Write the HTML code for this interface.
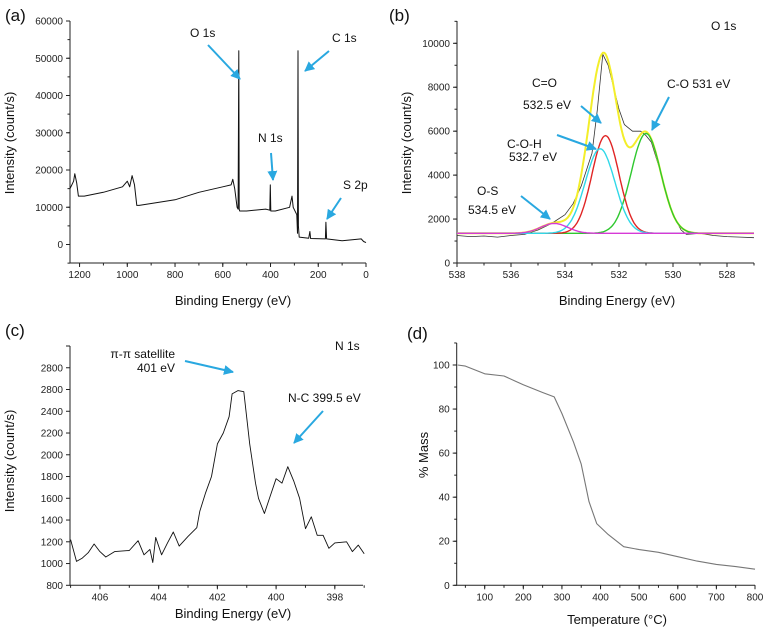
<!DOCTYPE html>
<html><head><meta charset="utf-8">
<style>
html,body{margin:0;padding:0;background:#fff;}
svg{display:block;font-family:"Liberation Sans",Arial,sans-serif;}
.tk{font-size:10px;fill:#222;}
.ttl{font-size:13px;fill:#111;}
.ann{font-size:12px;fill:#111;}
.pl{font-size:17px;fill:#111;}
</style></head>
<body>
<svg id="fig" width="768" height="635" viewBox="0 0 768 635">
<defs>
<marker id="ah" viewBox="0 0 10 10" refX="9" refY="5" markerWidth="5" markerHeight="5" orient="auto"><path d="M0,0 L10,5 L0,10 z" fill="#29a8e0"/></marker>
</defs>
</svg>
<script>
// ---- Panel (a) survey spectrum ----
const aEnergy = [1240,1225,1220,1212,1205,1180,1100,1020,1000,990,980,970,960,950,900,800,700,600,565,558,550,540,536,533,531,529,500,420,403,401,399,380,320,310,305,290,287,285,283,280,240,235,232,170,168,165,100,20,10,0];
const aIntensity = [15000,17000,19000,16500,13000,13000,14000,15500,17000,15500,18500,16000,10500,10500,11000,12000,14000,15500,16000,17500,15000,10000,9500,52000,9500,9000,9000,9500,9200,16000,9000,9000,10000,13000,10000,8000,3000,52000,5000,2000,1700,3500,1600,1500,6000,1500,1000,1500,800,500];
const aXTicks = [1200,1000,800,600,400,200,0];
const aYTicks = [0,10000,20000,30000,40000,50000,60000];
// ---- Panel (b) O 1s ----
const bEnergy = [538,537.5,537,536.5,536,535.5,535,534.5,534,533.7,533.4,533,532.8,532.6,532.4,532.2,532,531.8,531.5,531.2,531,530.8,530.5,530.2,530,529.7,529.5,529,528.5,528,527.5,527];
const bIntensity = [1250,1200,1230,1180,1250,1300,1500,1800,2200,2700,3500,5000,7000,9500,9000,8000,7000,6300,6000,6000,5800,5500,4300,3000,2200,1500,1300,1350,1250,1200,1180,1150];
const bPeakNames = ["O-S","C-O-H","C=O","C-O"];
const bPeakCenters = [534.4,532.7,532.5,531.0];
const bPeakHeights = [450,3850,4450,4550];
const bPeakSigmas = [0.5,0.55,0.5,0.55];
const bBaseline = 1350;
const bXTicks = [538,536,534,532,530,528];
const bYTicks = [0,2000,4000,6000,8000,10000];
// ---- Panel (c) N 1s ----
const cEnergy = [407,406.8,406.6,406.4,406.2,406,405.8,405.5,405,404.7,404.5,404.3,404.2,404.1,403.9,403.7,403.5,403.3,403,402.7,402.6,402.4,402.2,402,401.8,401.6,401.5,401.3,401.1,400.9,400.7,400.6,400.4,400.2,400,399.8,399.6,399.4,399.2,399,398.8,398.6,398.4,398.2,398,397.6,397.4,397.2,397];
const cIntensity = [1220,1020,1050,1100,1180,1110,1060,1110,1120,1210,1080,1130,1010,1240,1080,1190,1290,1160,1250,1330,1480,1650,1800,2100,2200,2350,2560,2590,2580,2100,1740,1600,1460,1620,1780,1740,1890,1760,1600,1320,1430,1260,1260,1140,1190,1200,1110,1170,1090];
const cXTicks = [406,404,402,400,398];
const cYTicks = [800,1000,1200,1400,1600,1800,2000,2200,2400,2600,2800];
const cYLabels = ["800","1000","1200","1400","1600","1800","2000","2200","2400","2800","2800"];
// ---- Panel (d) TGA ----
const dTemp = [30,50,100,150,200,250,280,300,330,350,370,390,420,460,500,550,600,650,700,750,800];
const dMass = [100,99.5,96,95,91,87.5,85.5,78,65,55,38,28,23,17.5,16.2,15,13,11,9.5,8.5,7.3];
const dXTicks = [100,200,300,400,500,600,700,800];
const dYTicks = [0,20,40,60,80,100];

const NS="http://www.w3.org/2000/svg";
const svg=document.getElementById('fig');
function mk(tag,attrs,parent){const e=document.createElementNS(NS,tag);for(const k in attrs)e.setAttribute(k,attrs[k]);(parent||svg).appendChild(e);return e;}
function lin(d0,d1,r0,r1){return v=>r0+(v-d0)/(d1-d0)*(r1-r0);}
function txt(s,x,y,cls,anchor,parent){const t=mk('text',{x:x,y:y,class:cls,'text-anchor':anchor||'middle'},parent);t.textContent=s;return t;}

function axes(g,P,xs,ys,xTicks,xMinor,yTicks,yMinor,yLabels){
  const ax=mk('path',{d:`M${P.l},${P.t} L${P.l},${P.b} L${P.r},${P.b}`,fill:'none',stroke:'#222','stroke-width':1},g);
  
  
  xMinor.forEach(v=>{const x=xs(v);mk('line',{x1:x,x2:x,y1:P.b,y2:P.b+2.5,stroke:'#222'},g);});
  xTicks.forEach(v=>{const x=xs(v);mk('line',{x1:x,x2:x,y1:P.b,y2:P.b+4,stroke:'#222'},g);
    const t=txt(String(v),x,P.b+15,'tk','middle',g);
    
    });
  yMinor.forEach(v=>{const y=ys(v);mk('line',{x1:P.l-2.5,x2:P.l,y1:y,y2:y,stroke:'#222'},g);});
  yTicks.forEach((v,i)=>{const y=ys(v);mk('line',{x1:P.l-4,x2:P.l,y1:y,y2:y,stroke:'#222'},g);
    const t=txt(yLabels?yLabels[i]:String(v),P.l-7,y+3.5,'tk','end',g);
    
    });
}
function range(a,b,s){const o=[];for(let v=a;v<=b+1e-9;v+=s)o.push(+v.toFixed(3));return o;}
function line(g,X,Y,xs,ys,color,w){const d=X.map((v,i)=>(i?'L':'M')+xs(v).toFixed(1)+','+ys(Y[i]).toFixed(1)).join(' ');
  return mk('path',{d:d,fill:'none',stroke:color,'stroke-width':w||1,'stroke-linejoin':'round'},g);}
function arrow(g,x1,y1,x2,y2){const a=mk('line',{x1,y1,x2,y2,stroke:'#29a8e0','stroke-width':2,'marker-end':'url(#ah)'},g);
  
  }
function ytitle(g,s,x,y){const t=mk('text',{x:0,y:0,class:'ttl','text-anchor':'middle',transform:`translate(${x},${y}) rotate(-90)`},g);t.textContent=s;
  
  }
function plabel(g,s,x,y){const t=txt(s,x,y,'pl','start',g);
  
  }
function xtitle(g,s,x,y){const t=txt(s,x,y,'ttl','middle',g);
  
  }
function ann(g,s,x,y,anchor){const t=txt(s,x,y,'ann',anchor||'start',g);
  
  }

// Panel a
{const g=mk('g',{});
 
 
 const P={l:70,r:366,t:21,b:263};
 const xs=lin(1240,0,70,366), ys=lin(0,60000,244.5,21);
 axes(g,P,xs,ys,aXTicks,range(0,1200,100),aYTicks,range(-5000,60000,5000),null);
 const l=line(g,aEnergy,aIntensity,xs,ys,'#111',1);
 
 
 plabel(g,'(a)',5,21); ytitle(g,'Intensity (count/s)',14,143); xtitle(g,'Binding Energy (eV)',233,305);
 ann(g,'O 1s',190,37); arrow(g,208,45,240,79);
 ann(g,'C 1s',332,42); arrow(g,329,51,305,71);
 ann(g,'N 1s',258,142); arrow(g,271,153,273,180);
 ann(g,'S 2p',343,189); arrow(g,341,198,327,219);
}
// Panel b
{const g=mk('g',{});
 
 
 const P={l:457,r:754,t:21,b:263};
 const xs=lin(538,527,457,754), ys=lin(0,10000,263,43.3);
 axes(g,P,xs,ys,bXTicks,range(527,538,1),bYTicks,range(0,11000,1000),null);
 const X=range(527,538,0.05).reverse();
 const gauss=(i,x)=>bPeakHeights[i]*Math.exp(-Math.pow(x-bPeakCenters[i],2)/(2*bPeakSigmas[i]*bPeakSigmas[i]));
 const comp=i=>X.map(x=>bBaseline+gauss(i,x));
 const env=X.map(x=>bBaseline+bPeakHeights.reduce((s,h,i)=>s+gauss(i,x),0));
 const raw=line(g,bEnergy,bIntensity,xs,ys,'#333',0.8);
 
 
 const env1=line(g,X,env,xs,ys,'#f3ee2a',2);
 
 
 const cols=['#d63ad6','#30d8e8','#e02525','#2fc82f'];
 [3,2,1,0].forEach(i=>{const p=line(g,X,comp(i),xs,ys,cols[i],1.4);
   
   });
 plabel(g,'(b)',389,21); ytitle(g,'Intensity (count/s)',411,143); xtitle(g,'Binding Energy (eV)',617,305);
 ann(g,'O 1s',711,30);
 ann(g,'C=O',532,87); ann(g,'532.5 eV',523,109); arrow(g,581,106,601,123);
 ann(g,'C-O-H',507,148); ann(g,'532.7 eV',509,161); arrow(g,557,135,596,149);
 ann(g,'C-O 531 eV',667,88); arrow(g,669,97,652,130);
 ann(g,'O-S',477,195); ann(g,'534.5 eV',468,214); arrow(g,521,196,550,219);
}
// Panel c
{const g=mk('g',{});
 
 
 const P={l:70,r:363,t:346,b:585.3};
 const xs=lin(407.02,397.04,70,363), ys=lin(800,3000,585.3,346);
 axes(g,P,xs,ys,cXTicks,range(397,407,1),cYTicks.concat([3000]),[],cYLabels.slice(0,10).concat(['2800']));
 const l=line(g,cEnergy,cIntensity,xs,ys,'#111',0.9);
 
 
 plabel(g,'(c)',5,336); ytitle(g,'Intensity (count/s)',14,461); xtitle(g,'Binding Energy (eV)',233,618);
 ann(g,'N 1s',335,350);
 ann(g,'π-π satellite',175,358,'end'); ann(g,'401 eV',175,372,'end'); arrow(g,185,361,233,372);
 ann(g,'N-C 399.5 eV',288,402); arrow(g,323,411,294,443);
}
// Panel d
{const g=mk('g',{});
 
 
 const P={l:456.7,r:755,t:343,b:585.3};
 const xs=lin(27.5,800,456.7,755), ys=lin(0,100,585.3,365);
 axes(g,P,xs,ys,dXTicks,range(50,800,50),dYTicks,range(0,110,10),null);
 const l=line(g,dTemp,dMass,xs,ys,'#777',1.1);
 
 
 plabel(g,'(d)',407,339); ytitle(g,'% Mass',428,455); xtitle(g,'Temperature (°C)',617,624);
}
</script>
</body></html>
